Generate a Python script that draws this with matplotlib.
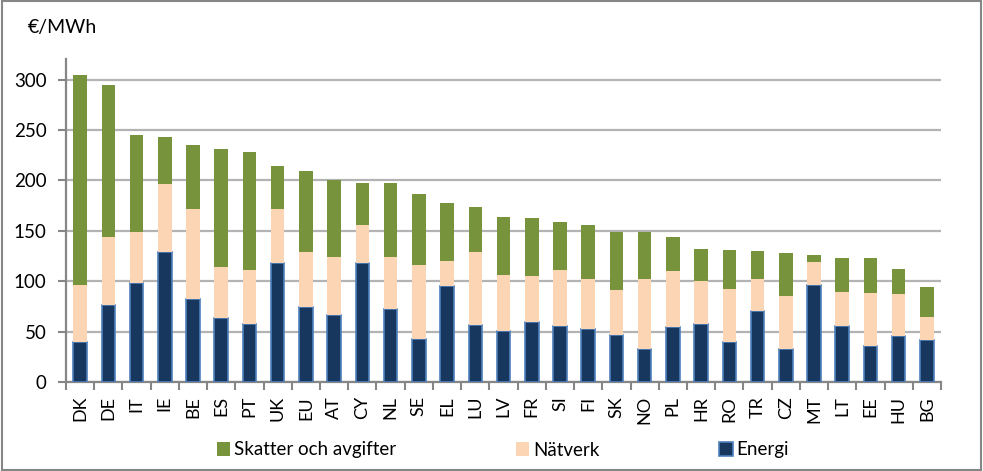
import matplotlib
matplotlib.use("Agg")
import matplotlib.pyplot as plt
import numpy as np
from matplotlib.patches import Rectangle

plt.rcParams['font.family'] = ['Lato', 'DejaVu Sans']

# Countries, sorted by total price
countries = ["DK", "DE", "IT", "IE", "BE", "ES", "PT", "UK", "EU", "AT", "CY", "NL",
             "SE", "EL", "LU", "LV", "FR", "SI", "FI", "SK", "NO", "PL", "HR", "RO",
             "TR", "CZ", "MT", "LT", "EE", "HU", "BG"]

# Top of each stack (total), top of the network segment, and the energy part (EUR/MWh)
total = [305, 295, 245, 243, 235, 231, 228, 214, 209, 200, 197, 197,
         186, 178, 174, 164, 163, 159, 156, 149, 149, 144, 132, 131,
         130, 128, 126, 123, 123, 112, 94]
energy_plus_network = [96, 144, 149, 196, 172, 114, 111, 172, 129, 124, 156, 124,
                       116, 120, 129, 106, 105, 111, 102, 91, 102, 110, 100, 92,
                       102, 85, 119, 89, 88, 87, 64]
energy = [40, 76, 98, 129, 82, 63, 58, 118, 74, 66, 118, 72,
          43, 95, 57, 51, 60, 56, 53, 47, 33, 55, 58, 40,
          70, 33, 96, 56, 36, 46, 42]

energi = np.array(energy)
natverk = np.array(energy_plus_network) - energi
skatter = np.array(total) - np.array(energy_plus_network)

green = "#77933C"
peach = "#FCD5B5"
navy = "#17375E"
navy_edge = "#4F81BD"
axis_gray = "#868686"
grid_gray = "#B3B3B3"

fig = plt.figure(figsize=(9.83, 4.71), dpi=100)
ax = fig.add_axes([66 / 983, 1 - 382 / 471, 875 / 983, 322.6 / 471])

x = np.arange(len(countries))
w = 0.48
b_en = ax.bar(x, energi, w, color=navy, edgecolor=navy_edge, linewidth=1.2,
              label="Energi", zorder=3)
b_nat = ax.bar(x, natverk, w, bottom=energi, color=peach, linewidth=0,
               label="Nätverk", zorder=3)
b_sk = ax.bar(x, skatter, w, bottom=energi + natverk, color=green, linewidth=0,
              label="Skatter och avgifter", zorder=3)

ax.set_xlim(-0.5, len(countries) - 0.5)
ax.set_ylim(0, 320)
ax.set_yticks(range(0, 301, 50))
ax.yaxis.grid(True, color=grid_gray, linewidth=1.6, zorder=0)
ax.set_axisbelow(True)

# category labels in the middle, tick marks on the boundaries
ax.set_xticks(x)
ax.set_xticklabels(countries, rotation=90, fontsize=13)
ax.tick_params(axis='x', which='major', length=0, pad=10)
ax.set_xticks(np.arange(-0.5, len(countries), 1), minor=True)
ax.tick_params(axis='x', which='minor', length=6, width=1.5, color=axis_gray)
ax.tick_params(axis='y', length=6, width=1.5, color=axis_gray, labelsize=13.5, pad=8)

for s in ["top", "right"]:
    ax.spines[s].set_visible(False)
for s in ["left", "bottom"]:
    ax.spines[s].set_color(axis_gray)
    ax.spines[s].set_linewidth(1.6)

fig.text(28 / 983, 1 - 28 / 471, "€/MWh", fontsize=14, va="center", ha="left")

fig.legend(handles=[b_sk, b_nat, b_en], loc="center",
           bbox_to_anchor=(503 / 983, 1 - 450 / 471), ncol=3, frameon=False,
           fontsize=13.5, handlelength=0.7, handleheight=0.7, handletextpad=0.2,
           columnspacing=6.4)

# outer chart border
fig.patches.append(Rectangle((0.002, 0.003), 0.996, 0.994, transform=fig.transFigure,
                             fill=False, edgecolor=axis_gray, linewidth=1.5))

fig.savefig("out.png", dpi=100)
